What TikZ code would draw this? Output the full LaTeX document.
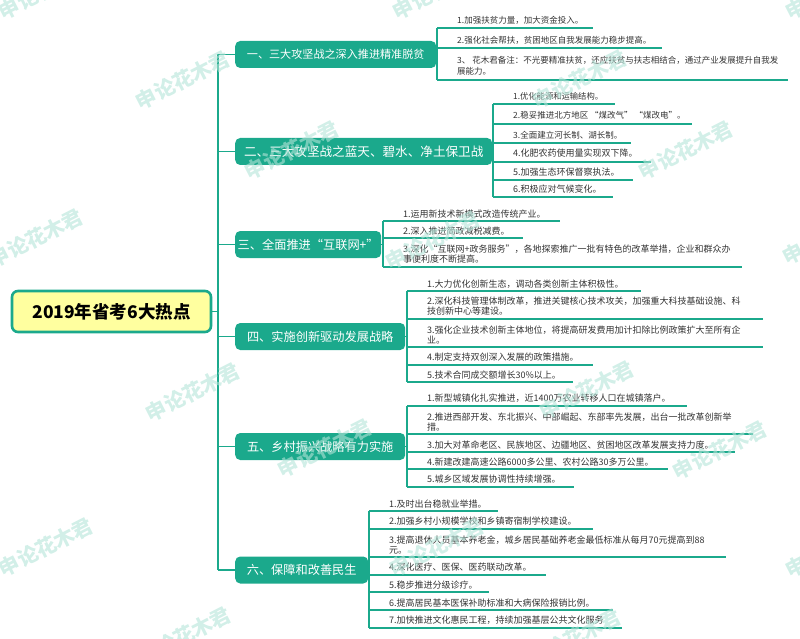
\documentclass[tikz,border=0pt]{standalone}
\usepackage{fontspec}
\setmainfont{Noto Sans CJK SC}
\definecolor{teal1}{HTML}{1BA98C}
\definecolor{rootfill}{HTML}{FFFF9F}
\definecolor{txt}{HTML}{333333}
\definecolor{wmcol}{HTML}{B4E4D8}
\tikzset{
  rootbox/.style={draw=teal1, line width=2.6pt, fill=rootfill, rounded corners=6pt, minimum width=199pt, minimum height=41pt, inner sep=0pt, font=\fontsize{17.5}{20}\selectfont\bfseries, text=black},
  branch/.style={fill=teal1, rounded corners=5pt, minimum height=27pt, inner sep=0pt, anchor=west, text=white},
  leaf/.style={anchor=west, inner sep=0pt, text=txt, align=left, font=\fontsize{9}{10}\selectfont},
  leafa/.style={leaf, font=\fontsize{8.5}{11}\selectfont},
  link/.style={draw=teal1, line width=1.4pt},
  uline/.style={draw=teal1, line width=1.8pt},
  wmark/.style={rotate=27, text=wmcol, opacity=0.6, font=\fontsize{20.5}{22}\selectfont\bfseries, inner sep=0pt}
}
\begin{document}
\begin{tikzpicture}[x=1pt,y=-1pt]
\useasboundingbox (0,0) rectangle (800,639);
% root
\node[rootbox] (root) at (111.5,311.5) {2019年省考6大热点};
% branches
\node[branch, minimum width=201pt, font=\fontsize{11.1}{13}\selectfont] (b1) at (235,54.5) {一、三大攻坚战之深入推进精准脱贫};
\node[branch, minimum width=257pt, font=\fontsize{12.6}{14}\selectfont] (b2) at (235,151.5) {二、三大攻坚战之蓝天、碧水、净土保卫战};
\node[branch, minimum width=146pt, font=\fontsize{12.2}{14}\selectfont] (b3) at (235,244.5) {三、全面推进“互联网+”};
\node[branch, minimum width=170pt, font=\fontsize{12.2}{14}\selectfont] (b4) at (235,336.5) {四、实施创新驱动发展战略};
\node[branch, minimum width=170pt, font=\fontsize{12.2}{14}\selectfont] (b5) at (235,446.5) {五、乡村振兴战略有力实施};
\node[branch, minimum width=133pt, font=\fontsize{12.2}{14}\selectfont] (b6) at (235,570) {六、保障和改善民生};
% trunk
\coordinate (trunk) at (218,311.5);
\draw[link] (root.east) -- (trunk);
\draw[link] (trunk |- b1.west) -- (trunk |- b6.west);
\foreach \b in {b1,b2,b3,b4,b5,b6} { \draw[link] (trunk |- \b.west) -- (\b.west); }

% ---------- branch 1 leaves
\coordinate (k1) at (437,28);
\coordinate (e11) at (593,28);
\coordinate (e12) at (662,48);
\coordinate (e13) at (788,80);
\node[leafa] (t11) at (457,20) {1.加强扶贫力量，加大资金投入。};
\node[leafa] (t12) at (457,40) {2.强化社会帮扶，贫困地区自我发展能力稳步提高。};
\node[leafa] (t13) at (457,65.5) {3、 花木君备注：不光要精准扶贫，还应扶贫与扶志相结合，通过产业发展提升自我发\\展能力。};
\draw[link] (b1.east) -- (b1.east -| k1);
\draw[link] (k1) -- (k1 |- e13);
\foreach \e in {e11,e12,e13} { \draw[uline] (k1 |- \e) -- (\e); }

% ---------- branch 2 leaves
\coordinate (k2) at (493,104);
\coordinate (e21) at (615,104);
\coordinate (e22) at (692,124);
\coordinate (e23) at (631,143);
\coordinate (e24) at (651,162);
\coordinate (e25) at (633,180);
\coordinate (e26) at (613,197);
\node[leaf, font=\fontsize{8.3}{10}\selectfont] (t21) at (513,96) {1.优化能源和运输结构。};
\node[leaf, font=\fontsize{8.5}{10}\selectfont] (t22) at (513,115.5) {2.稳妥推进北方地区 “煤改气” “煤改电”。};
\node[leaf, font=\fontsize{8.5}{10}\selectfont] (t23) at (513,135) {3.全面建立河长制、湖长制。};
\node[leaf] (t24) at (513,153.5) {4.化肥农药使用量实现双下降。};
\node[leaf] (t25) at (513,172) {5.加强生态环保督察执法。};
\node[leaf] (t26) at (513,189) {6.积极应对气候变化。};
\draw[link] (b2.east) -- (b2.east -| k2);
\draw[link] (k2) -- (k2 |- e26);
\foreach \e in {e21,e22,e23,e24,e25,e26} { \draw[uline] (k2 |- \e) -- (\e); }

% ---------- branch 3 leaves
\coordinate (k3) at (383,221);
\coordinate (e31) at (560,221);
\coordinate (e32) at (523,238);
\coordinate (e33) at (742,267);
\node[leaf] (t31) at (403,214) {1.运用新技术新模式改造传统产业。};
\node[leaf] (t32) at (403,231.5) {2.深入推进简政减税减费。};
\node[leaf] (t33) at (403,254.5) {3.深化“互联网+政务服务”，各地探索推广一批有特色的改革举措，企业和群众办\\事便利度不断提高。};
\draw[link] (b3.east) -- (b3.east -| k3);
\draw[link] (k3) -- (k3 |- e33);
\foreach \e in {e31,e32,e33} { \draw[uline] (k3 |- \e) -- (\e); }

% ---------- branch 4 leaves
\coordinate (k4) at (407,291);
\coordinate (e41) at (641,291);
\coordinate (e42) at (763,319);
\coordinate (e43) at (763,347);
\coordinate (e44) at (593,365);
\coordinate (e45) at (573,382);
\node[leaf] (t41) at (427,284) {1.大力优化创新生态，调动各类创新主体积极性。};
\node[leaf] (t42) at (427,306.5) {2.深化科技管理体制改革，推进关键核心技术攻关，加强重大科技基础设施、科\\技创新中心等建设。};
\node[leaf] (t43) at (427,334.5) {3.强化企业技术创新主体地位，将提高研发费用加计扣除比例政策扩大至所有企\\业。};
\node[leaf] (t44) at (427,357) {4.制定支持双创深入发展的政策措施。};
\node[leaf] (t45) at (427,375) {5.技术合同成交额增长30\%以上。};
\draw[link] (b4.east) -- (b4.east -| k4);
\draw[link] (k4) -- (k4 |- e45);
\foreach \e in {e41,e42,e43,e44,e45} { \draw[uline] (k4 |- \e) -- (\e); }

% ---------- branch 5 leaves
\coordinate (k5) at (407,406);
\coordinate (e51) at (687,406);
\coordinate (e52) at (753,434);
\coordinate (e53) at (735,452);
\coordinate (e54) at (668,469);
\coordinate (e55) at (574,487);
\node[leaf] (t51) at (427,398.5) {1.新型城镇化扎实推进，近1400万农业转移人口在城镇落户。};
\node[leaf] (t52) at (427,422) {2.推进西部开发、东北振兴、中部崛起、东部率先发展，出台一批改革创新举\\措。};
\node[leaf] (t53) at (427,445) {3.加大对革命老区、民族地区、边疆地区、贫困地区改革发展支持力度。};
\node[leaf] (t54) at (427,462) {4.新建改建高速公路6000多公里、农村公路30多万公里。};
\node[leaf] (t55) at (427,479.5) {5.城乡区域发展协调性持续增强。};
\draw[link] (b5.east) -- (b5.east -| k5);
\draw[link] (k5) -- (k5 |- e55);
\foreach \e in {e51,e52,e53,e54,e55} { \draw[uline] (k5 |- \e) -- (\e); }

% ---------- branch 6 leaves
\coordinate (k6) at (369,511);
\coordinate (e61) at (498,511);
\coordinate (e62) at (593,529);
\coordinate (e63) at (726,557);
\coordinate (e64) at (546,575);
\coordinate (e65) at (489,592);
\coordinate (e66) at (613,610);
\coordinate (e67) at (622,628);
\node[leaf] (t61) at (389,504) {1.及时出台稳就业举措。};
\node[leaf] (t62) at (389,521.5) {2.加强乡村小规模学校和乡镇寄宿制学校建设。};
\node[leaf] (t63) at (389,545) {3.提高退休人员基本养老金，城乡居民基础养老金最低标准从每月70元提高到88\\元。};
\node[leaf] (t64) at (389,567.5) {4.深化医疗、医保、医药联动改革。};
\node[leaf] (t65) at (389,585) {5.稳步推进分级诊疗。};
\node[leaf] (t66) at (389,603) {6.提高居民基本医保补助标准和大病保险报销比例。};
\node[leaf] (t67) at (389,620.5) {7.加快推进文化惠民工程，持续加强基层公共文化服务};
\draw[link] (b6.east) -- (b6.east -| k6);
\draw[link] (k6) -- (k6 |- e67);
\foreach \e in {e61,e62,e63,e64,e65,e66,e67} { \draw[uline] (k6 |- \e) -- (\e); }

% ---------- watermarks
\foreach \x/\y [count=\i] in {46/-10,440/-10,833/-10,183/80,580/79,292/150,686/150,36/238,433/240,830/235,193/392,587/390,325/448,720/450,46/547,437/547,833/548,184/636,574/638}
  { \node[wmark] (wm\i) at (\x,\y) {申论花木君}; }
\end{tikzpicture}
\end{document}
